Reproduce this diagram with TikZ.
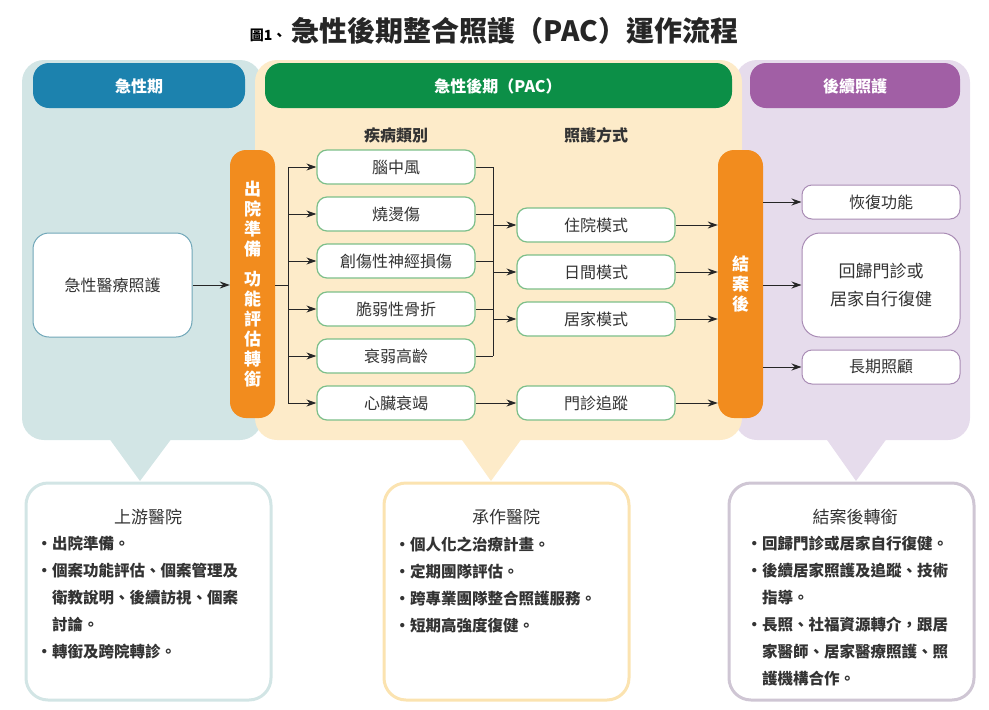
\documentclass[tikz,border=0pt]{standalone}
\usepackage{fontspec}
\setmainfont{Noto Sans CJK TC}
\usetikzlibrary{arrows.meta}
\definecolor{cbluebg}{HTML}{D2E5E5}
\definecolor{cblue}{HTML}{1C82AE}
\definecolor{ccream}{HTML}{FDEBC9}
\definecolor{cgreen}{HTML}{0C8F47}
\definecolor{cpurbg}{HTML}{E6DCEC}
\definecolor{cpur}{HTML}{A15FA5}
\definecolor{corange}{HTML}{F28C1E}
\definecolor{cgbord}{HTML}{7DBF8A}
\definecolor{cpbord}{HTML}{A98CB5}
\definecolor{cbbord}{HTML}{6FA6B8}
\definecolor{cybord}{HTML}{FBE3B0}
\definecolor{ctext}{HTML}{333333}
\begin{document}
\begin{tikzpicture}[x=1pt,y=-1pt,
  hdr/.style={text=white,font=\fontsize{16}{19}\selectfont\bfseries},
  gbox/.style={draw=cgbord,line width=1.2pt,fill=white,rounded corners=10pt,minimum width=158pt,minimum height=34pt,font=\fontsize{16}{19}\selectfont,text=ctext,inner sep=0pt},
  pbox/.style={draw=cpbord,line width=1pt,fill=white,rounded corners=10pt,minimum width=158pt,font=\fontsize{16}{19}\selectfont,text=ctext,inner sep=0pt},
  arr/.style={-{Stealth[length=10pt,width=7pt]},line width=1pt,draw=black!85},
  ln/.style={line width=1pt,draw=black!85},
  lst/.style={font=\fontsize{15.5}{27}\selectfont\bfseries,text=ctext,align=left,anchor=north west},
  ttl/.style={font=\fontsize{17}{20}\selectfont,text=ctext}]
\useasboundingbox (0,0) rectangle (989,710);
% title
\node[font=\fontsize{14}{16}\selectfont\bfseries,anchor=base east] (t0) at (290,40) {圖1、};
\node[font=\fontsize{28}{32}\selectfont\bfseries,anchor=base west,text=black!85] (t1) at (288,41) {急性後期整合照護（PAC）運作流程};
% panels
\fill[cbluebg,rounded corners=22pt] (22,60) rectangle (262,440);
\fill[cbluebg] (103,430) -- (178,430) -- (140,481) -- cycle;
\fill[cpurbg,rounded corners=22pt] (735,60) rectangle (970,440);
\fill[cpurbg] (820,430) -- (893,430) -- (856,481) -- cycle;
\fill[ccream,rounded corners=22pt] (255,60) rectangle (742,440);
\fill[ccream] (455,430) -- (528,430) -- (491,481) -- cycle;
\fill[cblue,rounded corners=16pt] (33,63) rectangle (245,108);
\node[hdr] (h1) at (139,86) {急性期};
\fill[cgreen,rounded corners=16pt] (265,63) rectangle (732,108);
\node[hdr] (h2) at (498,86) {急性後期（PAC）};
\fill[cpur,rounded corners=16pt] (750,63) rectangle (960,108);
\node[hdr] (h3) at (855,86) {後續照護};
\node[font=\fontsize{16}{19}\selectfont\bfseries,text=ctext] (c1) at (396,135) {疾病類別};
\node[font=\fontsize{16}{19}\selectfont\bfseries,text=ctext] (c2) at (596,135) {照護方式};
% left
\node[draw=cbbord,line width=1pt,fill=white,rounded corners=16pt,minimum width=159pt,minimum height=104pt,font=\fontsize{16}{19}\selectfont,text=ctext] (acute) at (112.5,285) {急性醫療照護};
% orange bars
\node[fill=corange,rounded corners=16pt,minimum width=45pt,minimum height=268pt,inner sep=0pt,text=white,font=\fontsize{17}{20}\selectfont\bfseries,align=center] (ob1) at (252.5,284) {出\\院\\準\\備\\[10pt]功\\能\\評\\估\\轉\\銜};
\node[fill=corange,rounded corners=16pt,minimum width=45pt,minimum height=268pt,inner sep=0pt,text=white,font=\fontsize{17}{20}\selectfont\bfseries,align=center] (ob2) at (740.5,284) {結\\案\\後};
\draw[arr] (acute) -- (ob1.west |- acute);
% disease boxes
\node[gbox] (d1) at (396,167) {腦中風};
\node[gbox] (d2) at (396,214) {燒燙傷};
\node[gbox] (d3) at (396,261) {創傷性神經損傷};
\node[gbox] (d4) at (396,309) {脆弱性骨折};
\node[gbox] (d5) at (396,356) {衰弱高齡};
\node[gbox] (d6) at (396,403) {心臟衰竭};
% mode boxes
\node[gbox] (m1) at (596,225) {住院模式};
\node[gbox] (m2) at (596,272) {日間模式};
\node[gbox] (m3) at (596,319) {居家模式};
\node[gbox] (m4) at (596,403) {門診追蹤};
% left bus
\coordinate (bl1) at (288,167);
\coordinate (bl6) at (288,403);
\draw[ln] (ob1.east |- 0,285) -- (288,285);
\draw[ln] (bl1) -- (bl6);
\foreach \d in {d1,d2,d3,d4,d5,d6} \draw[arr] (288,0 |- \d) -- (\d.west);
% right bus
\coordinate (br1) at (493,167);
\coordinate (br5) at (493,356);
\draw[ln] (br1) -- (br5);
\foreach \d in {d1,d2,d3,d4,d5} \draw[ln] (\d.east) -- (493,0 |- \d);
\foreach \m in {m1,m2,m3} \draw[arr] (493,0 |- \m) -- (\m.west);
\draw[arr] (d6) -- (m4);
\foreach \m in {m1,m2,m3,m4} \draw[arr] (\m.east) -- (ob2.west |- \m);
% right boxes
\node[pbox,minimum height=34pt] (r1) at (881,202) {恢復功能};
\node[pbox,minimum height=104pt,rounded corners=18pt,align=center,font=\fontsize{17}{28}\selectfont] (r2) at (881,285) {回歸門診或\\居家自行復健};
\node[pbox,minimum height=34pt] (r3) at (881,367) {長期照顧};
\foreach \r in {r1,r2,r3} \draw[arr] (ob2.east |- \r) -- (\r.west);
% bottom boxes
\draw[cbluebg,line width=3pt,fill=white,rounded corners=22pt] (26,483) rectangle (271,700);
\draw[cybord,line width=3pt,fill=white,rounded corners=22pt] (384,483) rectangle (629,700);
\draw[cpurbg!90!black,line width=3pt,fill=white,rounded corners=22pt] (729,483) rectangle (974,700);
\node[ttl] (b1) at (148,517) {上游醫院};
\node[lst] (l1) at (33,533) {・出院準備。\\・個案功能評估、個案管理及\\\hspace*{15.5pt}衛教說明、後續訪視、個案\\\hspace*{15.5pt}討論。\\・轉銜及跨院轉診。};
\node[ttl] (b2) at (506,517) {承作醫院};
\node[lst] (l2) at (391,533) {・個人化之治療計畫。\\・定期團隊評估。\\・跨專業團隊整合照護服務。\\・短期高強度復健。};
\node[ttl] (b3) at (855,517) {結案後轉銜};
\node[lst] (l3) at (743,533) {・回歸門診或居家自行復健。\\・後續居家照護及追蹤、技術\\\hspace*{15.5pt}指導。\\・長照、社福資源轉介，跟居\\\hspace*{15.5pt}家醫師、居家醫療照護、照\\\hspace*{15.5pt}護機構合作。};
\end{tikzpicture}
\end{document}
